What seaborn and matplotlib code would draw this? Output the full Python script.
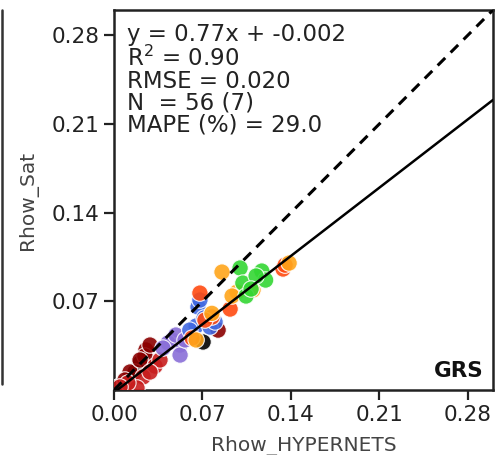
import numpy as np
import pandas as pd
import matplotlib
matplotlib.use("Agg")
import matplotlib.pyplot as plt
import seaborn as sns
from matplotlib.lines import Line2D

# ---- data ----
band_names = ["b1", "b2", "b3", "b4", "b5", "b6", "b7", "b8"]
band_colors = ["#000000", "#8B0000", "#C81E1E", "#8A6FD8", "#4169E1", "#FF4A10", "#FFA51A", "#33D633"]

hyp_b1 = [0.0705, 0.0206, 0.0135, 0.0048, 0.0016, 0.0087, 0.0166]
sat_b1 = [0.0379, 0.0213, 0.0079, 0.0032, 0.0016, 0.0047, 0.0142]
hyp_b2 = [0.0824, 0.0253, 0.0245, 0.0285, 0.0127, 0.0087, 0.0206]
sat_b2 = [0.0473, 0.0316, 0.0268, 0.0355, 0.0142, 0.0079, 0.0237]
hyp_b3 = [0.0325, 0.0230, 0.0182, 0.0364, 0.0285, 0.0110, 0.0048]
sat_b3 = [0.0189, 0.0103, 0.0016, 0.0237, 0.0142, 0.0055, 0.0024]
hyp_b4 = [0.0459, 0.0523, 0.0523, 0.0428, 0.0490, 0.0388, 0.0562]
sat_b4 = [0.0395, 0.0355, 0.0276, 0.0371, 0.0434, 0.0331, 0.0395]
hyp_b5 = [0.0665, 0.0650, 0.0760, 0.0713, 0.0600, 0.0800, 0.0680]
sat_b5 = [0.0655, 0.0505, 0.0497, 0.0568, 0.0473, 0.0537, 0.0710]
hyp_b6 = [0.0680, 0.1338, 0.0919, 0.0776, 0.0618, 0.1354, 0.0720]
sat_b6 = [0.0765, 0.0955, 0.0639, 0.0576, 0.0410, 0.0986, 0.0552]
hyp_b7 = [0.0855, 0.1386, 0.0974, 0.1100, 0.0775, 0.0935, 0.0650]
sat_b7 = [0.0931, 0.1002, 0.0773, 0.0789, 0.0605, 0.0742, 0.0395]
hyp_b8 = [0.0998, 0.1170, 0.1200, 0.1020, 0.1045, 0.1125, 0.1085]
sat_b8 = [0.0963, 0.0939, 0.0868, 0.0844, 0.0742, 0.0900, 0.0797]

fit_slope = 0.77
fit_intercept = -0.002
stats_text = ["y = 0.77x + -0.002", "R$^2$ = 0.90", "RMSE = 0.020", "N  = 56 (7)", "MAPE (%) = 29.0"]
xticks = [0.00, 0.07, 0.14, 0.21, 0.28]
yticks = [0.07, 0.14, 0.21, 0.28]
lim = [0.0, 0.30]
site_label = "GRS"

hyp = [hyp_b1, hyp_b2, hyp_b3, hyp_b4, hyp_b5, hyp_b6, hyp_b7, hyp_b8]
sat = [sat_b1, sat_b2, sat_b3, sat_b4, sat_b5, sat_b6, sat_b7, sat_b8]
rows = []
for name, xs, ys in zip(band_names, hyp, sat):
    for xv, yv in zip(xs, ys):
        rows.append({"band": name, "Rhow_HYPERNETS": xv, "Rhow_Sat": yv})
df = pd.DataFrame(rows)

sns.set_style("ticks")
plt.rcParams["font.family"] = ["DejaVu Sans"]

fig = plt.figure(figsize=(4.96, 4.55), dpi=100)
ax = fig.add_axes([114 / 496, 1 - 390 / 455, 379 / 496, 380 / 455])

sns.scatterplot(data=df, x="Rhow_HYPERNETS", y="Rhow_Sat", hue="band",
                palette=dict(zip(band_names, band_colors)), s=140,
                edgecolor="white", linewidth=0.8, alpha=0.9, legend=False, ax=ax, zorder=3)

xx = np.array(lim)
ax.plot(xx, xx, color="black", linestyle=(0, (3.5, 2.5)), linewidth=2.2, zorder=4)
ax.plot(xx, fit_slope * xx + fit_intercept, color="black", linewidth=1.8, zorder=4)

ax.set_xlim(lim)
ax.set_ylim(lim)
ax.set_xticks(xticks)
ax.set_yticks(yticks)
ax.set_xticklabels([f"{t:.2f}" for t in xticks])
ax.set_yticklabels([f"{t:.2f}" for t in yticks])
ax.tick_params(axis="both", labelsize=15.5, length=7, width=1.6, colors="#222222", direction="out")
for sp in ax.spines.values():
    sp.set_linewidth(1.8)
    sp.set_color("#222222")
ax.set_xlabel("Rhow_HYPERNETS", fontsize=14.5, color="#444444", labelpad=8)
ax.set_ylabel("Rhow_Sat", fontsize=14.5, color="#444444", labelpad=10)

ax.text(0.035, 0.965, "\n".join(stats_text), transform=ax.transAxes, ha="left", va="top",
        fontsize=16.5, color="#222222", linespacing=0.95, zorder=5)
ax.text(0.975, 0.035, site_label, transform=ax.transAxes, ha="right", va="baseline",
        fontsize=15.5, fontweight="bold", color="#111111", zorder=5)

# edge of the neighbouring panel (cropped)
fig.add_artist(Line2D([2 / 496, 2 / 496], [1 - 10 / 455, 1 - 384 / 455], transform=fig.transFigure,
                      color="#333333", linewidth=1.8))

fig.savefig("out.png", dpi=100)
